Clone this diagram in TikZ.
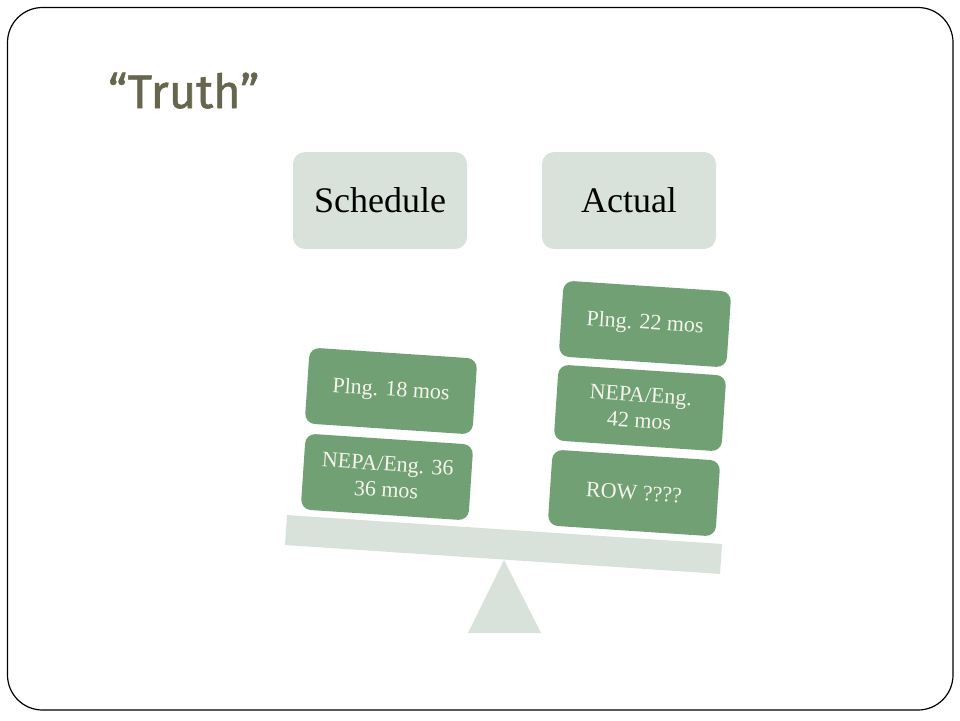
\documentclass[tikz,border=0pt]{standalone}
\usepackage{fontspec}
\setmainfont{Liberation Serif}
\newfontfamily\titlefont[FakeBold=1.2]{Fira Sans}
\definecolor{hdrc}{HTML}{D9E2DA}
\definecolor{gc}{HTML}{70A074}
\definecolor{boxtxt}{HTML}{F4F4EA}
\definecolor{titlec}{HTML}{66664F}
\tikzset{
  hdr/.style={fill=hdrc, rounded corners=12pt, minimum width=174pt, minimum height=97pt, inner sep=0pt, font=\fontsize{36}{40}\selectfont, text=black},
  gbox/.style={fill=gc, rounded corners=10pt, minimum width=168pt, minimum height=76pt, inner sep=0pt, rotate=-3.8, text=boxtxt, align=center, font=\fontsize{22}{26}\selectfont},
  beam/.style={fill=hdrc, minimum width=436pt, minimum height=30pt, inner sep=0pt, rotate=-3.8}
}
\begin{document}
\begin{tikzpicture}[x=1pt,y=-1pt]
\useasboundingbox (0,0) rectangle (960,720);
\fill[white] (0,0) rectangle (960,720);
\draw[line width=1.2pt, rounded corners=35pt] (7.5,7.5) rectangle (953,710);
\node[anchor=base west, text=titlec, font=\titlefont\fontsize{47}{52}\selectfont, inner sep=0pt] (title) at (108,108) {“Truth”};
\node[hdr] (sched) at (380,200.5) {Schedule};
\node[hdr] (act) at (629,200.5) {Actual};
\node[beam] (beamn) at (503.5,544.5) {};
\fill[hdrc] (504,560) -- (541,633) -- (468,633) -- cycle;
\node[gbox] (p18) at (391,391) {Plng. 18 mos};
\node[gbox] (n36) at (387,477) {NEPA/Eng. 36\\36 mos};
\node[gbox] (p22) at (645,324) {Plng. 22 mos};
\node[gbox] (n42) at (640,408) {NEPA/Eng.\\42 mos};
\node[gbox] (row) at (634,493) {ROW ????};
\end{tikzpicture}
\end{document}
